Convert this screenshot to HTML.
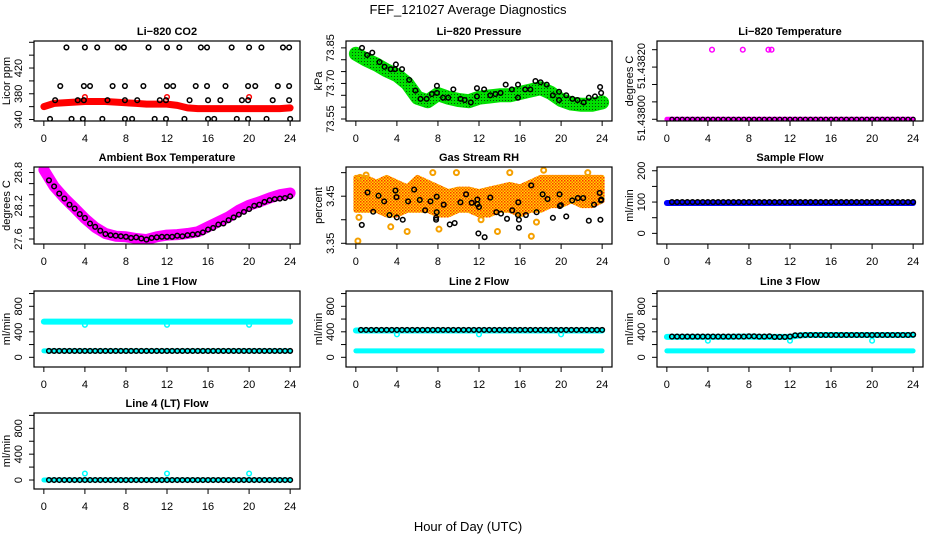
<!DOCTYPE html>
<html><head><meta charset="utf-8"><style>
html,body{margin:0;padding:0;background:#fff}
svg{display:block;font-family:"Liberation Sans",sans-serif}
</style></head><body>
<svg id="chart" width="936" height="540" viewBox="0 0 936 540" xmlns="http://www.w3.org/2000/svg">
<defs>
<pattern id="rhPat" width="3" height="3" patternUnits="userSpaceOnUse"><rect width="3" height="3" fill="#ffd800"/><rect x="0" y="0" width="1.5" height="1.5" fill="#ff3000"/><rect x="1.5" y="1.5" width="1.5" height="1.5" fill="#ff6000"/></pattern>
<pattern id="presPat" width="3" height="3" patternUnits="userSpaceOnUse"><rect x="1" y="1" width="1" height="1" fill="#0a4a0a"/></pattern>
</defs>
<text x="468" y="14" font-size="13" text-anchor="middle">FEF_121027  Average Diagnostics</text>
<text x="468" y="531" font-size="13" text-anchor="middle">Hour of Day (UTC)</text>
</svg>
<script>
// ---------- data ----------
const hourTicks = [0,4,8,12,16,20,24];
// CO2
const co2BandHourly = [360,365,366,367,368,368,368,367,366,365,364,364,364,362,358,357,357,357,357,357,357,357,357,357,358];
const co2BlackHours = [2.2,4.0,5.2,7.2,7.8,10.2,12.0,13.2,15.3,15.9,18.3,20.0,21.2,23.3,23.9,
 1.6,3.9,4.5,6.7,7.9,9.7,12.0,12.6,14.8,15.9,17.7,19.9,20.6,22.8,23.9,
 1.1,3.3,3.9,6.2,7.9,9.1,11.3,11.9,14.2,16.0,17.2,19.3,19.9,22.3,23.9,
 0.6,2.7,3.8,5.7,7.9,8.6,10.8,11.9,13.7,16.0,16.6,18.8,19.9,21.7,24.0];
const co2BlackValues = [452,452,452,452,452,452,452,452,452,452,452,452,452,452,452,
 392,392,392,392,392,392,392,392,392,392,392,392,392,392,392,
 370,370,370,370,370,370,370,370,370,370,370,370,370,370,370,
 341,341,341,341,341,341,341,341,341,341,341,341,341,341,341];
const co2OutlierHours = [4,12,20];
const co2OutlierValues = [375,375,375];
// Pressure
const presBandHourly = [73.825,73.80,73.78,73.755,73.735,73.70,73.64,73.625,73.655,73.64,73.63,73.625,73.64,73.645,73.65,73.65,73.66,73.67,73.68,73.66,73.63,73.615,73.61,73.61,73.62];
const presBlackHours = [0.6,1.1,1.6,2.3,2.8,3.4,3.8,3.9,4.5,5.2,5.8,6.3,6.9,7.4,7.9,7.9,8.5,9.0,9.5,10.2,10.6,11.2,11.8,11.8,12.5,13.1,13.6,14.1,14.6,15.2,15.8,15.8,16.5,17.0,17.5,18.0,18.6,19.2,19.8,19.8,20.5,21.1,21.6,22.2,22.7,23.3,23.8,23.9];
const presBlackValues = [73.85,73.82,73.83,73.79,73.77,73.76,73.76,73.78,73.76,73.715,73.67,73.635,73.635,73.655,73.69,73.66,73.64,73.64,73.675,73.635,73.63,73.62,73.68,73.645,73.675,73.65,73.655,73.66,73.695,73.675,73.695,73.64,73.675,73.675,73.71,73.705,73.695,73.65,73.665,73.63,73.65,73.635,73.63,73.62,73.64,73.645,73.685,73.66];
// Li-820 temperature
const tempBandHourly = [51.438,51.438,51.438,51.438,51.438,51.438,51.438,51.438,51.438,51.438,51.438,51.438,51.438,51.438,51.438,51.438,51.438,51.438,51.438,51.438,51.438,51.438,51.438,51.438,51.438];
const tempBlackHalfHourly = [51.438,51.438,51.438,51.438,51.438,51.438,51.438,51.438,51.438,51.438,51.438,51.438,51.438,51.438,51.438,51.438,51.438,51.438,51.438,51.438,51.438,51.438,51.438,51.438,51.438,51.438,51.438,51.438,51.438,51.438,51.438,51.438,51.438,51.438,51.438,51.438,51.438,51.438,51.438,51.438,51.438,51.438,51.438,51.438,51.438,51.438,51.438,51.438];
const tempOutlierHours = [4.4,7.4,9.9,10.2];
const tempOutlierValues = [51.4382,51.4382,51.4382,51.4382];
// Ambient box temperature
const ambBandHourly = [28.85,28.55,28.34,28.16,27.97,27.81,27.70,27.65,27.64,27.61,27.59,27.64,27.67,27.68,27.70,27.73,27.82,27.91,28.0,28.12,28.21,28.27,28.34,28.40,28.43];
const ambBlackHalfHourly = [28.66,28.55,28.42,28.33,28.22,28.15,28.05,27.98,27.88,27.82,27.75,27.69,27.67,27.66,27.65,27.64,27.62,27.63,27.61,27.59,27.62,27.63,27.64,27.64,27.64,27.66,27.65,27.67,27.68,27.69,27.72,27.77,27.80,27.86,27.88,27.94,27.99,28.04,28.09,28.14,28.20,28.22,28.27,28.30,28.32,28.33,28.34,28.37];
// Gas stream RH
const rhUpperHourly = [3.49,3.49,3.48,3.49,3.48,3.47,3.49,3.48,3.47,3.46,3.465,3.465,3.46,3.465,3.47,3.475,3.47,3.48,3.49,3.49,3.49,3.49,3.49,3.49,3.49];
const rhLowerHourly = [3.42,3.42,3.42,3.41,3.41,3.42,3.42,3.42,3.41,3.41,3.42,3.42,3.41,3.41,3.42,3.42,3.41,3.42,3.42,3.43,3.43,3.44,3.43,3.43,3.44];
const rhOrangeHours = [0.2,0.3,0.4,5.0,7.5,8.1,12.2,13.8,17.1,15.0,18.3,3.4,17.6,1.0,9.8,22.6];
const rhOrangeValues = [3.355,3.405,3.49,3.375,3.50,3.38,3.40,3.375,3.365,3.50,3.505,3.385,3.395,3.495,3.50,3.50];
const rhBlackHours = [0.58,1.14,1.69,2.21,2.76,3.28,3.86,3.96,3.99,4.57,5.09,5.68,6.23,6.75,7.27,7.88,7.88,7.82,7.82,8.56,9.15,9.63,10.19,10.74,11.29,11.84,11.84,12.0,11.94,12.55,13.1,13.69,14.14,14.73,15.24,15.8,15.83,15.89,15.89,16.57,17.09,17.61,18.2,18.68,19.2,19.85,19.88,19.98,20.5,21.08,21.63,22.15,22.7,23.21,23.76,23.83,23.89,23.92];
const rhBlackValues = [3.389,3.458,3.417,3.451,3.439,3.410,3.462,3.448,3.405,3.400,3.439,3.464,3.442,3.420,3.439,3.449,3.416,3.404,3.400,3.432,3.390,3.393,3.437,3.454,3.436,3.443,3.433,3.427,3.371,3.363,3.447,3.416,3.413,3.402,3.420,3.410,3.437,3.400,3.383,3.410,3.473,3.416,3.454,3.444,3.404,3.454,3.429,3.431,3.407,3.441,3.446,3.446,3.398,3.432,3.457,3.400,3.441,3.443];
// Flows
const sampleBandHourly = [97,97,97,97,97,97,97,97,97,97,97,97,97,97,97,97,97,97,97,97,97,97,97,97,97];
const sampleBlackHalfHourly = [100,100,100,100,100,100,100,100,100,100,100,100,100,100,100,100,100,100,100,100,100,100,100,100,100,100,100,100,100,100,100,100,100,100,100,100,100,100,100,100,100,100,100,100,100,100,100,100];
const line1UpperHourly = [560,560,560,560,560,560,560,560,560,560,560,560,560,560,560,560,560,560,560,560,560,560,560,560,560];
const line1LowerHourly = [100,100,100,100,100,100,100,100,100,100,100,100,100,100,100,100,100,100,100,100,100,100,100,100,100];
const line1BlackHalfHourly = [100,100,100,100,100,100,100,100,100,100,100,100,100,100,100,100,100,100,100,100,100,100,100,100,100,100,100,100,100,100,100,100,100,100,100,100,100,100,100,100,100,100,100,100,100,100,100,100];
const line1OutlierValues = [510,510,510];
const line2UpperHourly = [420,420,420,420,420,420,420,420,420,420,420,420,420,420,420,420,420,420,420,420,420,420,420,420,420];
const line2LowerHourly = [100,100,100,100,100,100,100,100,100,100,100,100,100,100,100,100,100,100,100,100,100,100,100,100,100];
const line2BlackHalfHourly = [430,430,430,430,430,430,430,430,430,430,430,430,430,430,430,430,430,430,430,430,430,430,430,430,430,430,430,430,430,430,430,430,430,430,430,430,430,430,430,430,430,430,430,430,430,430,430,430];
const line2OutlierValues = [360,360,360];
const line3UpperHourly = [320,320,320,320,320,320,320,325,325,320,320,320,320,345,350,350,350,350,350,350,350,350,350,350,350];
const line3LowerHourly = [100,100,100,100,100,100,100,100,100,100,100,100,100,100,100,100,100,100,100,100,100,100,100,100,100];
const line3BlackHalfHourly = [325,325,325,325,325,325,325,325,325,325,325,325,325,325,325,330,330,325,325,330,320,320,320,325,345,345,350,350,350,350,350,350,350,350,350,350,350,350,350,350,350,350,350,350,350,350,350,355];
const line3OutlierValues = [260,260,260];
const line4BandHourly = [0,0,0,0,0,0,0,0,0,0,0,0,0,0,0,0,0,0,0,0,0,0,0,0,0];
const line4BlackHalfHourly = [0,0,0,0,0,0,0,0,0,0,0,0,0,0,0,0,0,0,0,0,0,0,0,0,0,0,0,0,0,0,0,0,0,0,0,0,0,0,0,0,0,0,0,0,0,0,0,0];
const line4OutlierValues = [100,100,100];
const flowOutlierHours = [4,12,20];

// ---------- layout ----------
const NS = "http://www.w3.org/2000/svg";
const svg = document.getElementById('chart');
const colL = [34,346,657], PW = 266;
const rowT = [41,167,291,413], rowH = [80,77,76,76];
function el(tag, attrs, parent){const e=document.createElementNS(NS,tag);for(const k in attrs)e.setAttribute(k,attrs[k]);(parent||svg).appendChild(e);return e;}

function panel(name, col,row, ylim, ticks, labels, title, ytitle, labelPos){
  const g = el('g',{});
  
  
  const L=colL[col], T=rowT[row], H=rowH[row];
  const p = {g, L, T, H,
    x: h => L + 9.85 + h*(PW/25.92),
    y: v => T+H - (v-ylim[0])/(ylim[1]-ylim[0])*H};
  const plot = el('g',{'clip-path':'url(#clip'+col+row+')'}, g);
  const cp = el('clipPath',{id:'clip'+col+row}, g);
  el('rect',{x:L,y:T,width:PW,height:H}, cp);
  p.plot = plot;
  const t = el('text',{x:L+PW/2,y:T-6,'font-size':11,'font-weight':'bold','text-anchor':'middle'}, g);
  t.textContent = title;
  
  
  const box = el('rect',{x:L,y:T,width:PW,height:H,fill:'none',stroke:'#000','stroke-width':1.2}, g);
  
  
  hourTicks.forEach(h=>{
    const X=p.x(h);
    el('line',{x1:X,x2:X,y1:T+H,y2:T+H+5,stroke:'#000'}, g);
    const lt = el('text',{x:X,y:T+H+21,'font-size':11,'text-anchor':'middle'}, g);
    lt.textContent = h;
    
    
  });
  ticks.forEach(v=>{
    const Y=p.y(v);
    el('line',{x1:L-5,x2:L,y1:Y,y2:Y,stroke:'#000'}, g);
  });
  labels.forEach((v,i)=>{
    const Y = labelPos ? labelPos[i] : p.y(v);
    const lt = el('text',{x:0,y:0,'font-size':11,'text-anchor':'middle',transform:`translate(${L-12},${Y}) rotate(-90)`}, g);
    lt.textContent = v;
    
    
  });
  const yt = el('text',{x:0,y:0,'font-size':11,'text-anchor':'middle',transform:`translate(${L-24},${T+H/2}) rotate(-90)`}, g);
  yt.textContent = ytitle;
  
  
  return p;
}
function band(p, vals, color, w){
  const pts = vals.map((v,i)=>p.x(i).toFixed(1)+','+p.y(v).toFixed(1)).join(' ');
  const b = el('polyline',{points:pts,fill:'none',stroke:color,'stroke-width':w,'stroke-linecap':'round','stroke-linejoin':'round'}, p.plot);
  
  
}
function area(p, up, lo, color){
  const a = up.map((v,i)=>p.x(i).toFixed(1)+','+p.y(v).toFixed(1));
  const b = lo.map((v,i)=>p.x(i).toFixed(1)+','+p.y(v).toFixed(1)).reverse();
  const poly = el('polygon',{points:a.concat(b).join(' '),fill:color,stroke:color,'stroke-width':5,'stroke-linejoin':'round'}, p.plot);
  
  
}
function pts(p, hours, vals, color, r, sw){
  hours.forEach((h,i)=>{
    const c = el('circle',{cx:p.x(h),cy:p.y(vals[i]),r:r||2.3,fill:'none',stroke:color,'stroke-width':sw||1.5}, p.plot);
    
    
  });
}
const halfHours = []; for(let i=1;i<=48;i++) halfHours.push(i/2);

// ---------- panels ----------
let p;
p = panel('co2-panel',0,0,[337.7,462],[340,360,380,400,420,440,460],[340,380,420],'Li\u2212820 CO2','Licor ppm');
band(p, co2BandHourly, '#ff0000', 7);
pts(p, co2OutlierHours, co2OutlierValues, '#ff0000');
pts(p, co2BlackHours, co2BlackValues, '#000');

p = panel('pressure-panel',1,0,[73.5416,73.879],[73.55,73.60,73.65,73.70,73.75,73.80,73.85],['73.55','73.70','73.85'],'Li\u2212820 Pressure','kPa');
band(p, presBandHourly, '#00e000', 14);
band(p, presBandHourly, 'url(#presPat)', 12);
pts(p, presBlackHours, presBlackValues, '#000');

p = panel('li820-temp-panel',2,0,[51.437995,51.438225],[51.438,51.43805,51.4381,51.43815,51.4382],['51.43800','51.43820'],'Li\u2212820 Temperature','degrees C',[118,66]);
band(p, tempBandHourly, '#ff00ff', 5);
pts(p, tempOutlierHours, tempOutlierValues, '#ff00ff');
pts(p, halfHours, tempBlackHalfHourly, '#000', 2, 1.3);

p = panel('ambient-temp-panel',0,1,[27.51,28.90],[27.6,27.8,28.0,28.2,28.4,28.6,28.8],['27.6','28.2','28.8'],'Ambient Box Temperature','degrees C');
band(p, ambBandHourly, '#ff00ff', 11);
pts(p, halfHours, ambBlackHalfHourly, '#000');

p = panel('rh-panel',1,1,[3.3485,3.512],[3.35,3.40,3.45,3.50],['3.35','3.45'],'Gas Stream RH','percent');
area(p, rhUpperHourly, rhLowerHourly, 'url(#rhPat)');
pts(p, rhOrangeHours, rhOrangeValues, '#f5a000', 2.5, 2);
pts(p, rhBlackHours, rhBlackValues, '#000');

p = panel('sample-flow-panel',2,1,[-34,212],[0,50,100,150,200],[0,100,200],'Sample Flow','ml/min');
band(p, sampleBandHourly, '#0000ff', 6);
pts(p, halfHours, sampleBlackHalfHourly, '#000');

p = panel('line1-flow-panel',0,2,[-152,1040],[0,200,400,600,800,1000],[0,400,800],'Line 1 Flow','ml/min');
band(p, line1UpperHourly, '#00ffff', 6);
band(p, line1LowerHourly, '#00ffff', 5);
pts(p, flowOutlierHours, line1OutlierValues, '#00ffff');
pts(p, halfHours, line1BlackHalfHourly, '#000');

p = panel('line2-flow-panel',1,2,[-152,1040],[0,200,400,600,800,1000],[0,400,800],'Line 2 Flow','ml/min');
band(p, line2UpperHourly, '#00ffff', 6);
band(p, line2LowerHourly, '#00ffff', 5);
pts(p, flowOutlierHours, line2OutlierValues, '#00ffff');
pts(p, halfHours, line2BlackHalfHourly, '#000');

p = panel('line3-flow-panel',2,2,[-152,1040],[0,200,400,600,800,1000],[0,400,800],'Line 3 Flow','ml/min');
band(p, line3UpperHourly, '#00ffff', 6);
band(p, line3LowerHourly, '#00ffff', 5);
pts(p, flowOutlierHours, line3OutlierValues, '#00ffff');
pts(p, halfHours, line3BlackHalfHourly, '#000');

p = panel('line4-flow-panel',0,3,[-139,1037],[0,200,400,600,800,1000],[0,400,800],'Line 4 (LT) Flow','ml/min');
band(p, line4BandHourly, '#00ffff', 5);
pts(p, flowOutlierHours, line4OutlierValues, '#00ffff');
pts(p, halfHours, line4BlackHalfHourly, '#000');
</script>
</body></html>
